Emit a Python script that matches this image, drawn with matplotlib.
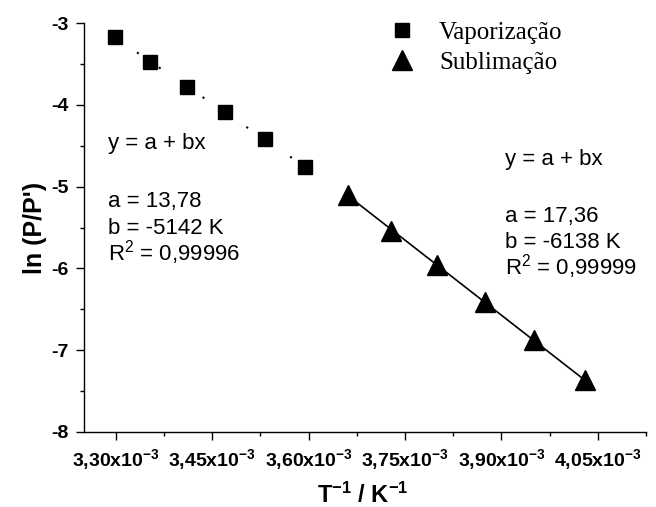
import numpy as np
import matplotlib
matplotlib.use("Agg")
import matplotlib.pyplot as plt
from matplotlib.font_manager import FontProperties

# ---- data ----
vap_x = [3.299e-3, 3.354e-3, 3.411e-3, 3.470e-3, 3.532e-3, 3.595e-3]
vap_y = [-3.17, -3.47, -3.78, -4.09, -4.42, -4.76]
sub_x = [3.661e-3, 3.729e-3, 3.800e-3, 3.874e-3, 3.950e-3, 4.030e-3]
sub_y = [-5.10, -5.54, -5.96, -6.41, -6.88, -7.37]

x_ticks = [3.30e-3, 3.45e-3, 3.60e-3, 3.75e-3, 3.90e-3, 4.05e-3]
x_tick_labels = [r"3,30x10$^{\mathbf{-3}}$", r"3,45x10$^{\mathbf{-3}}$",
                 r"3,60x10$^{\mathbf{-3}}$", r"3,75x10$^{\mathbf{-3}}$",
                 r"3,90x10$^{\mathbf{-3}}$", r"4,05x10$^{\mathbf{-3}}$"]
y_ticks = [-8, -7, -6, -5, -4, -3]
y_tick_labels = ["-8", "-7", "-6", "-5", "-4", "-3"]

vap_label = "Vaporização"
sub_label = "Sublimação"
vap_fit_text = ["y = a + bx", "a = 13,78", "b = -5142 K", "R$^2$ = 0,99996"]
sub_fit_text = ["y = a + bx", "a = 17,36", "b = -6138 K", "R$^2$ = 0,99999"]

plt.rcParams['font.family'] = ['Liberation Sans', 'DejaVu Sans']
plt.rcParams['mathtext.fontset'] = 'custom'
plt.rcParams['mathtext.rm'] = 'Liberation Sans'
plt.rcParams['mathtext.it'] = 'Liberation Sans:italic'
plt.rcParams['mathtext.bf'] = 'Liberation Sans:bold'
plt.rcParams['mathtext.default'] = 'regular'
plt.rcParams['axes.unicode_minus'] = False

W, H = 656, 507
fig = plt.figure(figsize=(W / 100, H / 100), dpi=100)
ax = fig.add_axes([84.3 / W, 75.3 / H, 561.7 / W, 408.4 / H])

ax.set_xlim(3.251e-3, 4.0985e-3)
ax.set_ylim(-8, -3)

# fit lines
pv = np.polyfit(vap_x, vap_y, 1)
xv = np.array([vap_x[0], vap_x[-1]])
ax.plot(xv, np.polyval(pv, xv), color='black', lw=1.5,
        linestyle=(0, (1, 11.7)), zorder=2)
ps = np.polyfit(sub_x, sub_y, 1)
xs = np.array([sub_x[0], sub_x[-1]])
ax.plot(xs, np.polyval(ps, xs), color='black', lw=1.2, zorder=2)

# points
ax.plot(vap_x, vap_y, linestyle='none', marker='s', ms=10, color='black',
        label=vap_label, zorder=3)
ax.plot(sub_x, sub_y, linestyle='none', marker='^', ms=14, color='black',
        label=sub_label, zorder=3)

# axes styling
for s in ['top', 'right']:
    ax.spines[s].set_visible(False)
for s in ['left', 'bottom']:
    ax.spines[s].set_linewidth(1.0)

ax.set_xticks(x_ticks, x_tick_labels, fontweight='bold', fontsize=14)
ax.set_yticks(y_ticks, y_tick_labels, fontweight='bold', fontsize=14)
ax.set_xticks([t + 0.075e-3 for t in x_ticks], minor=True)
ax.set_yticks([t + 0.5 for t in y_ticks[:-1]], minor=True)
ax.tick_params(which='major', direction='out', length=6, width=1.0, pad=5)
ax.tick_params(which='minor', direction='out', length=3, width=1.0)

ax.set_xlabel(r"T$^{\mathbf{-1}}$ / K$^{\mathbf{-1}}$", fontsize=17, fontweight='bold')
ax.set_ylabel("ln (P/P')", fontsize=18, fontweight='bold')
ax.yaxis.set_label_coords(-0.067, 0.5)
ax.xaxis.set_label_coords(0.495, -0.125)

# annotations
left_pos = [(0.0427, 0.6915), (0.0427, 0.5495), (0.0427, 0.4841), (0.0427, 0.418)]
right_pos = [(0.749, 0.653), (0.749, 0.514), (0.749, 0.449), (0.749, 0.386)]
for (x, y), t in zip(left_pos, vap_fit_text):
    ax.text(x, y, t, transform=ax.transAxes, fontsize=16, va='baseline', ha='left')
for (x, y), t in zip(right_pos, sub_fit_text):
    ax.text(x, y, t, transform=ax.transAxes, fontsize=16, va='baseline', ha='left')

leg = ax.legend(loc='upper left', bbox_to_anchor=(381.7 / W, 1 - 21 / H),
                bbox_transform=fig.transFigure, frameon=False, borderpad=0,
                borderaxespad=0, handlelength=1.6, handletextpad=0.7,
                labelspacing=0.3, numpoints=1,
                prop=FontProperties(family='Liberation Serif', size=18))

fig.savefig("out.png", dpi=100)
